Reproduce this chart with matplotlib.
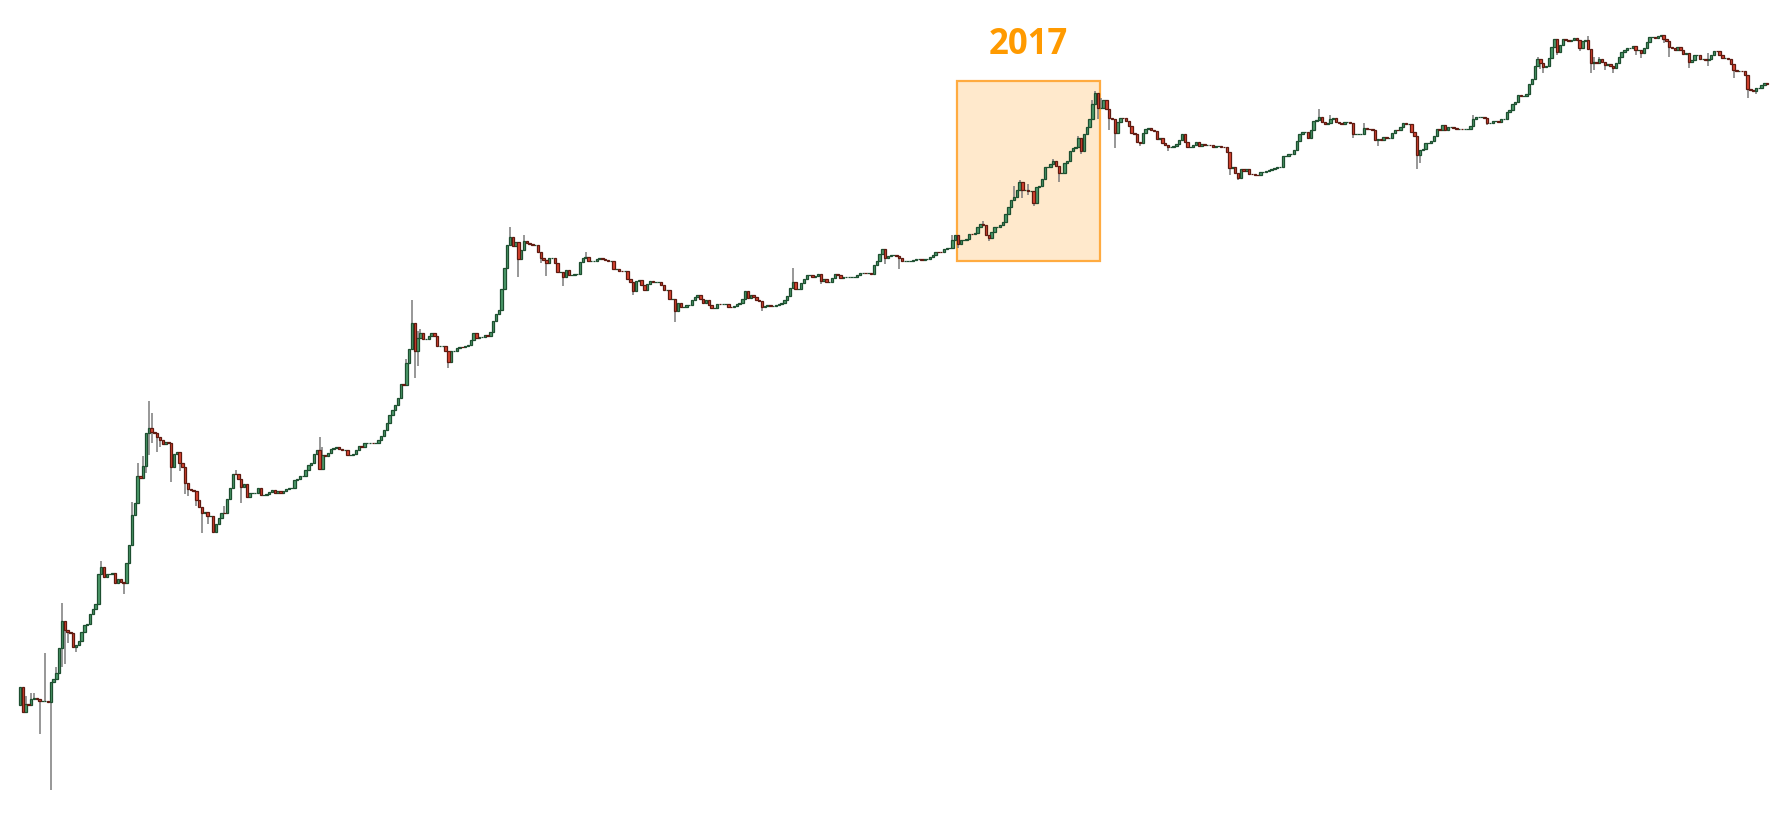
import matplotlib
matplotlib.use("Agg")
import matplotlib.pyplot as plt
from matplotlib.patches import Rectangle
import numpy as np

# weekly closes (USD), first week mid July 2010
first_open = 0.055

closes = [
    # 0
    0.08, 0.047, 0.056, 0.055, 0.062, 0.064, 0.062, 0.059, 0.060, 0.060,
    0.058, 0.089, 0.095, 0.107, 0.18, 0.32, 0.26, 0.25, 0.245, 0.185,
    0.19, 0.21, 0.25, 0.29, 0.30, 0.37, 0.41, 0.45, 0.85, 0.98,
    0.79, 0.85, 0.85, 0.86, 0.70, 0.77, 0.72, 0.70, 1.07, 1.55,
    # 40
    2.9, 3.7, 6.6, 6.3, 8.1, 16.1, 17.9, 16.5, 16.0, 14.8,
    14.0, 12.8, 13.4, 13.0, 7.9, 10.4, 10.9, 8.6, 7.9, 5.65,
    5.0, 4.9, 4.8, 3.97, 3.4, 3.0, 3.1, 2.85, 2.85, 2.03,
    2.4, 2.7, 3.05, 3.0, 4.05, 5.1, 6.85, 6.8, 6.1, 5.2,
    # 80
    5.5, 4.2, 4.6, 4.6, 4.6, 5.1, 4.4, 4.45, 4.5, 4.7,
    4.9, 4.6, 4.75, 4.6, 4.75, 5.0, 5.1, 5.1, 6.0, 6.2,
    6.5, 6.6, 7.4, 8.2, 8.6, 10.4, 11.2, 7.6, 10.2, 10.0,
    10.6, 11.5, 11.7, 12.0, 11.5, 11.2, 11.3, 10.2, 10.2, 10.3,
    # 120
    11.3, 12.2, 12.0, 13.2, 13.2, 13.2, 13.0, 13.2, 14.0, 15.1,
    17.1, 19.8, 23.4, 26, 29, 33.5, 44.7, 43.8, 69, 93,
    160, 89, 117, 130, 115, 115, 121, 130, 122, 99,
    99, 99, 89, 71, 89, 90, 95, 98, 97, 100,
    # 160
    101, 112, 130, 117, 120, 120, 125, 123, 133, 166,
    193, 210, 325, 505, 815, 960, 800, 870, 610, 740,
    890, 850, 840, 820, 820, 705, 620, 600, 560, 630,
    630, 565, 465, 465, 420, 490, 435, 435, 445, 450,
    # 200
    570, 620, 640, 590, 590, 590, 610, 620, 610, 595,
    585, 585, 495, 495, 480, 478, 478, 400, 380, 315,
    385, 390, 355, 320, 365, 385, 380, 380, 380, 355,
    320, 320, 265, 265, 207, 245, 222, 225, 232, 232,
    # 240
    258, 275, 285, 265, 245, 258, 232, 220, 220, 238,
    237, 237, 238, 225, 222, 230, 240, 245, 265, 310,
    270, 285, 275, 262, 255, 225, 228, 235, 228, 228,
    233, 240, 245, 262, 280, 330, 378, 325, 325, 370,
    # 280
    400, 440, 440, 420, 425, 445, 385, 405, 380, 380,
    410, 445, 440, 410, 415, 415, 420, 420, 420, 435,
    460, 460, 458, 458, 450, 540, 580, 680, 760, 630,
    650, 665, 670, 650, 620, 580, 580, 580, 580, 600,
    # 320
    605, 605, 600, 605, 615, 635, 660, 710, 705, 700,
    745, 765, 775, 900, 1000, 830, 910, 910, 920, 1030,
    1020, 1050, 1190, 1260, 1230, 1000, 950, 1080, 1190, 1190,
    1250, 1310, 1550, 1800, 2100, 2220, 2600, 3030, 2600, 2600,
    # 360
    2550, 2550, 1950, 2770, 2800, 3230, 4160, 4160, 4450, 4750,
    4300, 3700, 3700, 4500, 4700, 5840, 6150, 6300, 7700, 5870,
    8300, 9600, 11500, 15600, 19500, 14300, 14300, 17000, 13900, 11700,
    11500, 8500, 10800, 11700, 11600, 11000, 9800, 8500, 8400, 7000,
    # 400
    6950, 8500, 9300, 9500, 9100, 8900, 7500, 7700, 6900, 6600,
    6300, 6300, 6500, 6700, 7400, 8300, 7000, 6400, 6400, 6600,
    7100, 6500, 6700, 6600, 6600, 6550, 6400, 6450, 6450, 6400,
    6350, 5700, 4100, 4200, 3700, 3300, 4000, 3850, 4000, 3600,
    # 440
    3580, 3560, 3550, 3750, 3750, 3850, 3900, 3980, 4080, 4150,
    4150, 5300, 5300, 5450, 5450, 5900, 7200, 8400, 8750, 8750,
    7700, 9000, 11000, 11100, 11900, 10600, 10200, 10500, 11300, 11600,
    10800, 10400, 10200, 10600, 10600, 10400, 8300, 8300, 8400, 8400,
    # 480
    9500, 9300, 9200, 9000, 7400, 7500, 7400, 7800, 7700, 7700,
    8500, 9050, 9000, 9600, 10400, 10300, 10300, 8600, 8000, 5400,
    5900, 6100, 6900, 6900, 7200, 7900, 9200, 9100, 10000, 9100,
    9700, 9700, 9400, 9300, 9300, 9200, 9300, 9300, 9900, 11500,
    # 520
    11800, 11800, 11800, 11700, 10500, 10500, 11000, 11000, 10800, 11400,
    11400, 13100, 13700, 15600, 16400, 18700, 18300, 18300, 19300, 23800,
    26500, 34500, 39800, 36900, 33500, 34500, 40700, 51000, 60000, 46000,
    53000, 61000, 59000, 57500, 59500, 61500, 59500, 50500, 57500, 59500,
    # 560
    49000, 36500, 37500, 37000, 40000, 37500, 35500, 36000, 34500, 33000,
    36500, 42000, 46000, 48500, 50000, 50000, 52500, 48000, 48500, 45000,
    50000, 56500, 63000, 63000, 62000, 64000, 66500, 60000, 58000, 51000,
    50500, 48500, 51000, 48000, 44500, 45000, 37500, 39000, 43000, 43000,
    # 600
    39500, 39500, 39000, 39500, 43000, 47500, 47000, 43000, 40500, 40500,
    39500, 35800, 31800, 31000, 31000, 30800, 28300, 21300, 21000, 20300,
    21700, 21700, 23300, 24000, 23700,
]

# wicks that reach past the body (week index -> price)
wick_hi = {2: 0.066, 4: 0.07, 5: 0.07, 9: 0.163, 13: 0.12, 15: 0.46, 29: 1.1,
           40: 3.8, 42: 8.6, 44: 10.0, 46: 31.6, 47: 24.5, 73: 3.5, 77: 7.5,
           107: 14.8, 108: 12.0, 138: 75, 140: 260, 142: 135, 143: 140,
           175: 1200, 180: 1000, 202: 700, 276: 505, 333: 1000, 344: 1350,
           355: 2800, 357: 3200, 360: 2950, 369: 4980, 378: 7900, 383: 17000,
           384: 20500, 386: 17500, 464: 14000, 468: 12300, 480: 10500,
           519: 12400, 542: 42000, 560: 64500, 562: 42000, 564: 41500,
           603: 45500}
wick_lo = {7: 0.03, 11: 0.0093, 15: 0.12, 16: 0.13, 17: 0.2, 20: 0.165, 37: 0.56,
           45: 7.0, 46: 10.2, 47: 13.0, 49: 10.8, 50: 12.0, 54: 5.8, 57: 7.3,
           59: 4.5, 60: 4.3, 63: 3.5, 65: 2.0, 67: 2.4, 79: 3.7, 141: 51,
           142: 65, 153: 63, 178: 420, 186: 560, 188: 430, 194: 350, 219: 290,
           234: 163, 265: 205, 286: 360, 309: 550, 314: 500, 335: 770,
           346: 890, 358: 2170, 360: 2350, 362: 1830, 371: 3050, 379: 5500,
           385: 11500, 389: 9000, 391: 6200, 400: 6500, 410: 5800, 432: 3500,
           435: 3150, 476: 7700, 485: 6500, 499: 4000, 500: 4500, 524: 10000,
           543: 32500, 544: 30000, 549: 43000, 557: 47500, 561: 30000,
           562: 31500, 566: 31500, 569: 29500, 577: 43000, 579: 40500,
           587: 55500, 589: 42000, 596: 33000, 603: 34500, 612: 27000,
           617: 17600, 620: 19000}

closes = np.array(closes, dtype=float)
opens = np.concatenate([[first_open], closes[:-1]])
x = np.arange(len(closes))

body_lo = np.minimum(opens, closes)
body_hi = np.maximum(opens, closes)
highs = body_hi.copy()
lows = body_lo.copy()
for i, v in wick_hi.items():
    highs[i] = max(highs[i], v)
for i, v in wick_lo.items():
    lows[i] = min(lows[i], v)
up = closes >= opens

GREEN = "#4e9c6c"
GREEN_EDGE = "#1d4f30"
RED = "#dc4632"
RED_EDGE = "#5e1a10"
WICK = "#7a7a7a"

fig = plt.figure(figsize=(17.81, 8.18), dpi=100)
ax = fig.add_axes([0, 0, 1, 1])
ax.set_yscale("log")
ax.set_xlim(-20 / 2.8, (1781 - 20) / 2.8)
ax.set_ylim(10 ** ((566 - 818) / 110.2), 10 ** (566 / 110.2))
ax.axis("off")

# highlighted 2017 run
ax.add_patch(Rectangle((334.6, 586), 385.7 - 334.6, 25200 - 586,
                       facecolor="#FFE9CC", edgecolor="#FFAB40",
                       linewidth=1.6, zorder=1))
ax.text(360, 53400, "2017", color="#FF9A00", fontsize=25,
        fontweight="bold", family=["Open Sans", "DejaVu Sans"],
        ha="center", va="center")

has_wick = (highs > body_hi) | (lows < body_lo)
ax.vlines(x[has_wick], lows[has_wick], highs[has_wick],
          color=WICK, linewidth=1.1, zorder=2)

ax.bar(x[up], (body_hi - body_lo)[up], bottom=body_lo[up], width=0.85,
       color=GREEN, edgecolor=GREEN_EDGE, linewidth=0.9, zorder=3)
ax.bar(x[~up], (body_hi - body_lo)[~up], bottom=body_lo[~up], width=0.85,
       color=RED, edgecolor=RED_EDGE, linewidth=0.9, zorder=3)

fig.savefig("out.png", dpi=100)
plt.close(fig)
